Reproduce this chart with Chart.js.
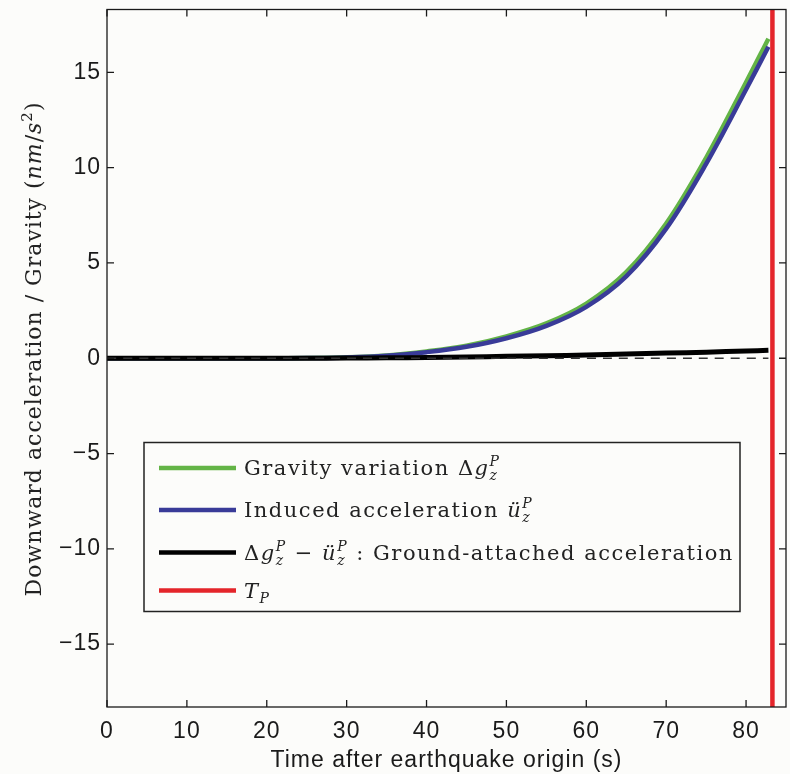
<!DOCTYPE html>
<html>
<head>
<meta charset="utf-8">
<script src="https://cdn.jsdelivr.net/npm/chart.js@4.4.1/dist/chart.umd.min.js"></script>
<style>
    html, body { margin: 0; padding: 0; background: #fcfcfa; }
    #wrap { width: 790px; height: 774px; position: relative; }
</style>
</head>
<body>
<div id="wrap"><canvas id="grafica"></canvas></div>
<script>
// time after origin (s)
const tiempos = [0, 5, 10, 15, 20, 25, 30, 35, 40, 45, 50, 55, 60, 65, 70, 75, 80, 82.8]
// gravity variation
const gravedad = [0, 0, 0, 0, 0, 0.01, 0.05, 0.15, 0.36, 0.66, 1.15, 1.83, 2.87, 4.52, 7.07, 10.52, 14.48, 16.77]
// induced acceleration
const inducida = [0, 0, 0, 0, 0, 0.01, 0.04, 0.13, 0.32, 0.6, 1.05, 1.7, 2.7, 4.3, 6.8, 10.2, 14.1, 16.35]
// ground-attached acceleration
const suelo = [0, 0, 0, 0, 0, 0, 0.01, 0.02, 0.04, 0.06, 0.1, 0.13, 0.17, 0.22, 0.27, 0.32, 0.38, 0.42]
// dashed zero reference
const tiemposCero = [0, 82.8]
const valoresCero = [0, 0]
// P-wave arrival time
const tiempoP = 83.3

const ticksX = [0, 10, 20, 30, 40, 50, 60, 70, 80]
const ticksY = [-15, -10, -5, 0, 5, 10, 15]
const limX = [0, 85]
const limY = [-18.3, 18.3]

const colores = {
    gravedad: '#63b446',
    inducida: '#393b98',
    suelo: '#000000',
    tp: '#e4252a'
}

const serif = '"DejaVu Serif", serif'
const sans = '"Liberation Sans", Arial, sans-serif'

const puntos = (xs, ys) => xs.map((t, i) => ({ x: t, y: ys[i] }))

// rich text with italics, sub and superscripts
function escribir(ctx, x, y, partes, tam) {
    partes.forEach(p => {
        if (p.sup !== undefined || p.ind !== undefined) {
            ctx.font = `${p.up ? '' : 'italic '}${Math.round(tam * 0.68)}px ${serif}`
            let w = 0
            if (p.sup) {
                ctx.fillText(p.sup, x, y - tam * 0.42)
                w = ctx.measureText(p.sup).width
            }
            if (p.ind) {
                ctx.fillText(p.ind, x, y + tam * 0.25)
                w = Math.max(w, ctx.measureText(p.ind).width)
            }
            x += w
        } else {
            ctx.font = `${p.i ? 'italic ' : ''}${tam}px ${serif}`
            ctx.fillText(p.t, x, y)
            x += ctx.measureText(p.t).width
        }
    })
    return x
}

function medir(ctx, partes, tam) {
    let w = 0
    partes.forEach(p => {
        if (p.sup !== undefined || p.ind !== undefined) {
            ctx.font = `${p.up ? '' : 'italic '}${Math.round(tam * 0.68)}px ${serif}`
            w += Math.max(p.sup ? ctx.measureText(p.sup).width : 0, p.ind ? ctx.measureText(p.ind).width : 0)
        } else {
            ctx.font = `${p.i ? 'italic ' : ''}${tam}px ${serif}`
            w += ctx.measureText(p.t).width
        }
    })
    return w
}

const letras = partes => partes.reduce((n, p) => n + (p.t ? p.t.length : Math.max((p.sup || '').length, (p.ind || '').length)), 0)

const leyenda = [
    { color: colores.gravedad, partes: [{ t: 'Gravity variation ' }, { t: 'Δ' }, { t: 'g', i: true }, { sup: 'P', ind: 'z' }] },
    { color: colores.inducida, partes: [{ t: 'Induced acceleration ' }, { t: 'ü', i: true }, { sup: 'P', ind: 'z' }] },
    { color: colores.suelo, partes: [{ t: 'Δ' }, { t: 'g', i: true }, { sup: 'P', ind: 'z' }, { t: ' − ' }, { t: 'ü', i: true }, { sup: 'P', ind: 'z' }, { t: ' : Ground-attached acceleration' }] },
    { color: colores.tp, partes: [{ t: 'T', i: true }, { ind: 'P' }] }
]

const tituloY = [{ t: 'Downward acceleration / Gravity (' }, { t: 'nm', i: true }, { t: '/' }, { t: 's', i: true }, { sup: '2', up: true }, { t: ')' }]

// spacing so a line spans the width seen in the figure
function ajustar(ctx, partes, tam, objetivo) {
    ctx.letterSpacing = '0px'
    const w = medir(ctx, partes, tam)
    ctx.letterSpacing = Math.max(0, (objetivo - w) / letras(partes)).toFixed(2) + 'px'
}

// frame, inward ticks, legend box and y title
const marco = {
    id: 'marco',
    beforeDraw(chart) {
        // the sans labels in the figure are a little wide
        chart.ctx.letterSpacing = '1px'
    },
    afterDraw(chart) {
        const { ctx, chartArea: a, scales: { x, y } } = chart
        ctx.save()
        ctx.strokeStyle = '#1a1a1a'
        ctx.lineWidth = 1.3
        ctx.beginPath()
        ticksX.forEach(v => {
            const px = x.getPixelForValue(v)
            ctx.moveTo(px, a.bottom); ctx.lineTo(px, a.bottom - 7)
            ctx.moveTo(px, a.top); ctx.lineTo(px, a.top + 7)
        })
        ticksY.forEach(v => {
            const py = y.getPixelForValue(v)
            ctx.moveTo(a.left, py); ctx.lineTo(a.left + 7, py)
            ctx.moveTo(a.right, py); ctx.lineTo(a.right - 7, py)
        })
        ctx.stroke()
        ctx.strokeRect(a.left, a.top, a.right - a.left, a.bottom - a.top)

        // legend
        const lx = a.left + 37, ly = 442.5, lw = 596, lh = 169
        ctx.fillStyle = '#fcfcfa'
        ctx.fillRect(lx, ly, lw, lh)
        ctx.strokeStyle = '#222'
        ctx.lineWidth = 1.5
        ctx.strokeRect(lx, ly, lw, lh)
        const filas = [468, 510, 552.5, 590.5]
        const tamL = 21
        ajustar(ctx, leyenda[2].partes, tamL, 490)
        leyenda.forEach((e, i) => {
            ctx.strokeStyle = e.color
            ctx.lineWidth = 4.5
            ctx.beginPath()
            ctx.moveTo(lx + 15, filas[i]); ctx.lineTo(lx + 92, filas[i])
            ctx.stroke()
            ctx.fillStyle = '#222'
            ctx.textBaseline = 'alphabetic'
            ctx.textAlign = 'left'
            escribir(ctx, lx + 100, filas[i] + 7, e.partes, tamL)
        })

        // y axis title
        const tamY = 22
        ajustar(ctx, tituloY, tamY, 495)
        const w = medir(ctx, tituloY, tamY)
        ctx.translate(41, 349)
        ctx.rotate(-Math.PI / 2)
        escribir(ctx, -w / 2, 0, tituloY, tamY)
        ctx.restore()
    }
}

const ctx = document.getElementById('grafica').getContext('2d')
new Chart(ctx, {
    type: 'line',
    data: {
        datasets: [
            { label: 'T_P', data: [{ x: tiempoP, y: limY[0] }, { x: tiempoP, y: limY[1] }], borderColor: colores.tp, borderWidth: 4.5, order: 0 },
            { label: 'zero', data: puntos(tiemposCero, valoresCero), borderColor: '#333', borderWidth: 1.5, borderDash: [9, 7], order: 1 },
            { label: 'ground', data: puntos(tiempos, suelo), borderColor: colores.suelo, borderWidth: 5, order: 2 },
            { label: 'induced', data: puntos(tiempos, inducida), borderColor: colores.inducida, borderWidth: 4.5, order: 3 },
            { label: 'gravity', data: puntos(tiempos, gravedad), borderColor: colores.gravedad, borderWidth: 4.5, order: 4 }
        ]
    },
    options: {
        animation: false,
        responsive: true,
        maintainAspectRatio: false,
        layout: { padding: { top: 9.5, right: 4, left: 0, bottom: 0 } },
        elements: {
            point: { radius: 0 },
            line: { tension: 0.35, fill: false, capBezierPoints: true }
        },
        plugins: {
            legend: { display: false },
            tooltip: { enabled: false }
        },
        scales: {
            x: {
                type: 'linear',
                min: limX[0],
                max: limX[1],
                afterBuildTicks: s => { s.ticks = ticksX.map(v => ({ value: v })) },
                afterFit: s => { s.height = 67; s.paddingLeft = 0; s.paddingRight = 0 },
                grid: { display: false, drawTicks: false },
                border: { display: false },
                ticks: { font: { family: sans, size: 23 }, color: '#1a1a1a', padding: 11, maxRotation: 0 },
                title: {
                    display: true,
                    text: 'Time after earthquake origin (s)',
                    font: { family: sans, size: 23 },
                    color: '#1a1a1a',
                    padding: { top: 0, bottom: 0 }
                }
            },
            y: {
                type: 'linear',
                min: limY[0],
                max: limY[1],
                afterBuildTicks: s => { s.ticks = ticksY.map(v => ({ value: v })) },
                afterFit: s => { s.width = 107; s.paddingTop = 0; s.paddingBottom = 0 },
                grid: { display: false, drawTicks: false },
                border: { display: false },
                ticks: {
                    font: { family: sans, size: 23 },
                    color: '#1a1a1a',
                    padding: 6,
                    callback: v => v < 0 ? '\u2212' + Math.abs(v) : '' + v
                }
            }
        }
    },
    plugins: [marco]
})
</script>
</body>
</html>
